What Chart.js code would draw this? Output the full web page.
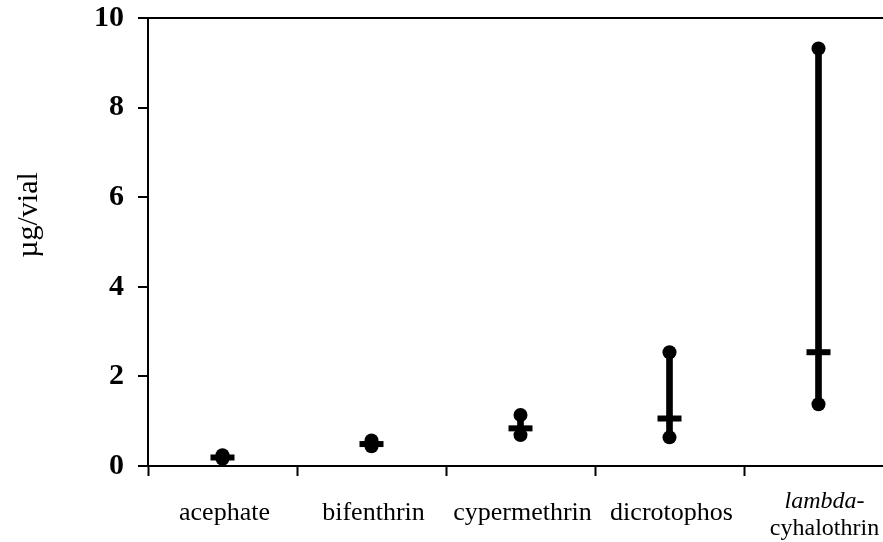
<!DOCTYPE html>
<html>
<head>
<meta charset="utf-8">
<script src="https://cdn.jsdelivr.net/npm/chart.js@4"></script>
<style>
  html, body { margin: 0; padding: 0; overflow: hidden; background: #fff; }
  #wrap { width: 883px; height: 542px; overflow: hidden; }
</style>
</head>
<body>
<div id="wrap"><canvas id="residueChart" width="900" height="542"></canvas></div>
<script>
var categories = ["acephate", "bifenthrin", "cypermethrin", "dicrotophos", "lambda-cyhalothrin"];
var highValues = [0.24, 0.57, 1.14, 2.54, 9.32];
var lowValues = [0.16, 0.44, 0.69, 0.64, 1.38];
var meanValues = [0.19, 0.49, 0.84, 1.06, 2.54];
var yTicks = [0, 2, 4, 6, 8, 10];
var yTitle = "µg/vial";

var serif = "'Liberation Serif', 'Times New Roman', serif";

// range bars built from low/high
var rangeData = categories.map(function(c, i) {
    return [lowValues[i], highValues[i]];
});

// draws the axis title and category labels (one of them is half italic)
var labelPlugin = {
    id: "labelPlugin",
    afterDraw: function(chart) {
        var ctx = chart.ctx;
        var xs = chart.scales.x;
        var area = chart.chartArea;
        ctx.save();
        ctx.fillStyle = "#000";

        ctx.translate(29, 215);
        ctx.rotate(-Math.PI / 2);
        ctx.font = "30px " + serif;
        ctx.textAlign = "center";
        ctx.textBaseline = "middle";
        ctx.fillText(yTitle, 0, 0);
        ctx.setTransform(1, 0, 0, 1, 0, 0);

        ctx.textAlign = "center";
        ctx.textBaseline = "alphabetic";
        categories.forEach(function(name, i) {
            var x = xs.getPixelForValue(i) + 2;
            if (name.indexOf("lambda-") === 0) {
                ctx.font = "italic 24px " + serif;
                ctx.fillText("lambda-", x + 4, area.bottom + 42);
                ctx.font = "24px " + serif;
                ctx.fillText(name.substr(7), x + 4, area.bottom + 69);
            } else {
                ctx.font = "26px " + serif;
                ctx.fillText(name, x, area.bottom + 54);
            }
        });
        ctx.restore();
    }
};

var ctx = document.getElementById("residueChart").getContext("2d");

new Chart(ctx, {
    type: "bar",
    data: {
        labels: categories,
        datasets: [
            {
                type: "line",
                label: "mean",
                data: meanValues,
                showLine: false,
                pointStyle: "line",
                pointRadius: 12,
                pointBorderWidth: 6,
                pointBorderColor: "#000",
                order: 0
            },
            {
                type: "line",
                label: "high",
                data: highValues,
                showLine: false,
                pointStyle: "circle",
                pointRadius: 7,
                pointBorderWidth: 0,
                pointBackgroundColor: "#000",
                order: 1
            },
            {
                type: "line",
                label: "low",
                data: lowValues,
                showLine: false,
                pointStyle: "circle",
                pointRadius: 7,
                pointBorderWidth: 0,
                pointBackgroundColor: "#000",
                order: 1
            },
            {
                type: "bar",
                label: "range",
                data: rangeData,
                backgroundColor: "#000",
                barThickness: 6,
                borderSkipped: false,
                order: 2
            }
        ]
    },
    options: {
        responsive: false,
        animation: false,
        layout: {
            autoPadding: false,
            padding: { left: 95, top: 18, right: 7, bottom: 0 }
        },
        plugins: {
            legend: { display: false },
            tooltip: { enabled: false },
            title: { display: false }
        },
        scales: {
            x: {
                offset: true,
                grid: {
                    offset: true,
                    drawOnChartArea: false,
                    tickLength: 10,
                    tickColor: "#000",
                    tickWidth: 2
                },
                border: { color: "#000", width: 2 },
                ticks: { display: false },
                afterFit: function(scale) {
                    scale.height = 76;
                    scale.paddingLeft = 0;
                    scale.paddingRight = 0;
                }
            },
            y: {
                min: 0,
                max: 10,
                afterBuildTicks: function(scale) {
                    scale.ticks = yTicks.map(function(v) { return { value: v }; });
                },
                grid: {
                    color: function(c) {
                        return c.tick && c.tick.value === 10 ? "#000" : "rgba(0,0,0,0)";
                    },
                    lineWidth: 2,
                    tickLength: 10,
                    tickColor: "#000",
                    tickWidth: 2
                },
                border: { color: "#000", width: 2 },
                ticks: {
                    color: "#000",
                    padding: 14,
                    font: { family: serif, size: 30, weight: "bold" }
                },
                afterFit: function(scale) {
                    scale.width = 53;
                    scale.paddingTop = 0;
                    scale.paddingBottom = 0;
                }
            }
        }
    },
    plugins: [labelPlugin]
});
</script>
</body>
</html>
